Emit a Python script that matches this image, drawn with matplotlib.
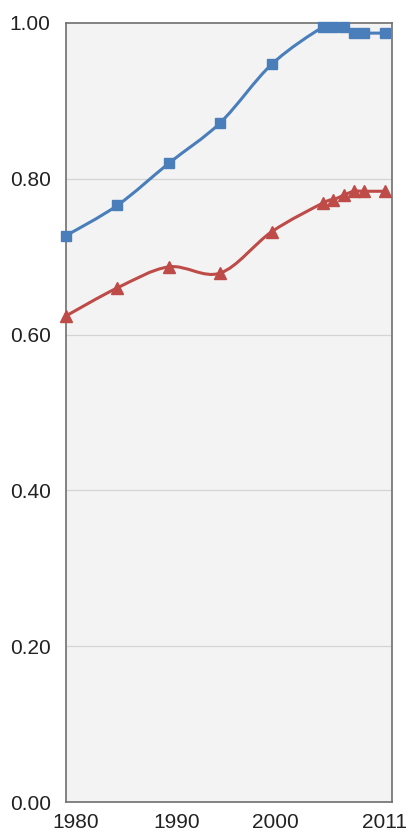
import matplotlib
matplotlib.use('Agg')
import matplotlib.pyplot as plt
import matplotlib.transforms as mtransforms
from matplotlib.path import Path
from matplotlib.patches import PathPatch
import numpy as np

plt.rcParams['font.family'] = ['Liberation Sans', 'DejaVu Sans']

years = [1980, 1985, 1990, 1995, 2000, 2005, 2006, 2007, 2008, 2009, 2011]
blue_vals = [0.727, 0.766, 0.820, 0.872, 0.947, 0.995, 0.995, 0.995, 0.987, 0.987, 0.987]
red_vals = [0.624, 0.660, 0.687, 0.679, 0.732, 0.769, 0.773, 0.779, 0.784, 0.784, 0.784]
x_ticks = [1980, 1990, 2000, 2011]
x_tick_shift_px = [10, 8, 4, 0]   # labels sit a bit right of their ticks
y_ticks = [0.0, 0.2, 0.4, 0.6, 0.8, 1.0]

BLUE = '#4a7ebb'
RED = '#be4b48'

def smooth_path(x, y, k=1.0):
	# catmull-rom style bezier through the points
	x = np.asarray(x, float)
	y = np.asarray(y, float)
	n = len(x)
	verts = [(x[0], y[0])]
	codes = [Path.MOVETO]
	for i in range(n - 1):
		p0 = max(i - 1, 0)
		p3 = min(i + 2, n - 1)
		c1 = (x[i] + k*(x[i+1] - x[p0])/6, y[i] + k*(y[i+1] - y[p0])/6)
		c2 = (x[i+1] - k*(x[p3] - x[i])/6, y[i+1] - k*(y[p3] - y[i])/6)
		verts += [c1, c2, (x[i+1], y[i+1])]
		codes += [Path.CURVE4]*3
	return Path(verts, codes)

fig = plt.figure(figsize=(4.16, 8.33), dpi=100)
ax = fig.add_axes([0.1587, 0.0372, 0.7836, 0.9352])
ax.set_facecolor('#f3f3f3')

for v in y_ticks[1:-1]:
	ax.axhline(v, color='#d4d4d4', lw=0.9, zorder=1)

for vals, col, mk, ms in [(blue_vals, BLUE, 's', 7.5), (red_vals, RED, '^', 8.5)]:
	ax.add_patch(PathPatch(smooth_path(years, vals), facecolor='none', edgecolor=col, lw=2.2, zorder=3))
	ax.plot(years, vals, linestyle='none', marker=mk, color=col, ms=ms, zorder=4, clip_on=False)

ax.set_xlim(1980, 2011.7)
ax.set_ylim(0, 1)
ax.set_yticks(y_ticks)
ax.set_yticklabels(['%.2f' % v for v in y_ticks])
ax.set_xticks(x_ticks)
ax.set_xticklabels([str(v) for v in x_ticks])
ax.tick_params(axis='both', length=0, labelsize=15, colors='#222222')
ax.tick_params(axis='y', pad=11)
ax.tick_params(axis='x', pad=8)
for lab, sh in zip(ax.get_xticklabels(), x_tick_shift_px):
	lab.set_transform(lab.get_transform() + mtransforms.ScaledTranslation(sh/100, 0, fig.dpi_scale_trans))

for s in ax.spines.values():
	s.set_color('#6e6e6e')
	s.set_linewidth(1.2)

fig.savefig('out.png', dpi=100)
